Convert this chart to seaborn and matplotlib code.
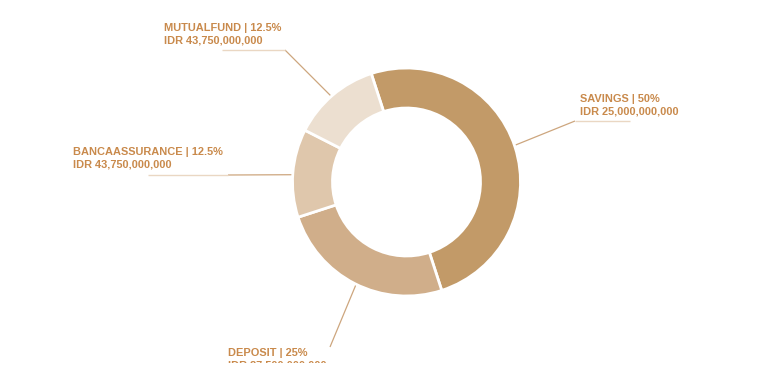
import numpy as np
import matplotlib
matplotlib.use("Agg")
import matplotlib.pyplot as plt
from matplotlib.transforms import Bbox, TransformedBbox
import seaborn as sns

# ---- data ----
categories = ["SAVINGS", "DEPOSIT", "BANCAASSURANCE", "MUTUALFUND"]
shares = [50, 25, 12.5, 12.5]
pct_labels = ["50%", "25%", "12.5%", "12.5%"]
amount_labels = ["IDR 25,000,000,000", "IDR 87,500,000,000",
                 "IDR 43,750,000,000", "IDR 43,750,000,000"]
colors = ["#C29A68", "#D0AE8A", "#DFC7AC", "#ECDFD0"]

sns.set_theme(style="white")
plt.rcParams['font.family'] = ['Liberation Sans', 'DejaVu Sans']

W, H = 779, 375
fig = plt.figure(figsize=(W / 100, H / 100), dpi=100)
fig.patch.set_facecolor("white")
ax = fig.add_axes([0, 0, 1, 1])

def Y(y):
    return H - y

cx, cy = 406.5, 182
r_out, ring = 114, 40
start = 108

wedges, _ = ax.pie(shares, colors=sns.color_palette(colors), startangle=start,
                   counterclock=False, radius=r_out, center=(cx, Y(cy)),
                   wedgeprops=dict(width=ring, edgecolor="white", linewidth=2))
for w in wedges:
    w.set_zorder(3)

ax.set_xlim(0, W)
ax.set_ylim(0, H)
ax.set_aspect("auto")
ax.axis("off")

# layout of labels: (elbow point, end point, text x, text y of first line)
layout = {
    "SAVINGS": ((575, 121), (630, 121), 580, 99),
    "DEPOSIT": ((330, 347), (330, 347), 228, 353),
    "BANCAASSURANCE": ((228, 175), (148, 175), 73, 152),
    "MUTUALFUND": ((285, 50), (222, 50), 164, 28),
}

text_color = "#C98A4C"
line_dark = "#CDA67E"
line_light = "#EAD7C3"
fs = 7.9

cum = 0.0
r_anchor = r_out - ring / 2
for cat, s, pct, amt in zip(categories, shares, pct_labels, amount_labels):
    mid = start - (cum + s / 2) / 100 * 360
    cum += s
    th = np.deg2rad(mid)
    sx = cx + r_anchor * np.cos(th)
    sy = cy - r_anchor * np.sin(th)
    (ex, ey), (fx, fy), tx, ty = layout[cat]
    ax.plot([sx, ex], [Y(sy), Y(ey)], color=line_dark, lw=0.9, zorder=2,
            solid_capstyle="butt")
    ax.plot([ex, fx], [Y(ey), Y(fy)], color=line_light, lw=1.0, zorder=2,
            solid_capstyle="butt")
    ax.text(tx, Y(ty), f"{cat} | {pct}", color=text_color, fontsize=fs,
            fontweight="bold", ha="left", va="center", zorder=4)
    t2 = ax.text(tx, Y(ty + 12.5), amt, color=text_color, fontsize=fs,
                 fontweight="bold", ha="left", va="center", zorder=4)
    if cat == "DEPOSIT":
        clip = TransformedBbox(Bbox([[0, Y(363)], [W, H]]), ax.transData)
        t2.set_clip_box(clip)
        t2.set_clip_on(True)

fig.savefig("out.png", dpi=100, facecolor="white")
